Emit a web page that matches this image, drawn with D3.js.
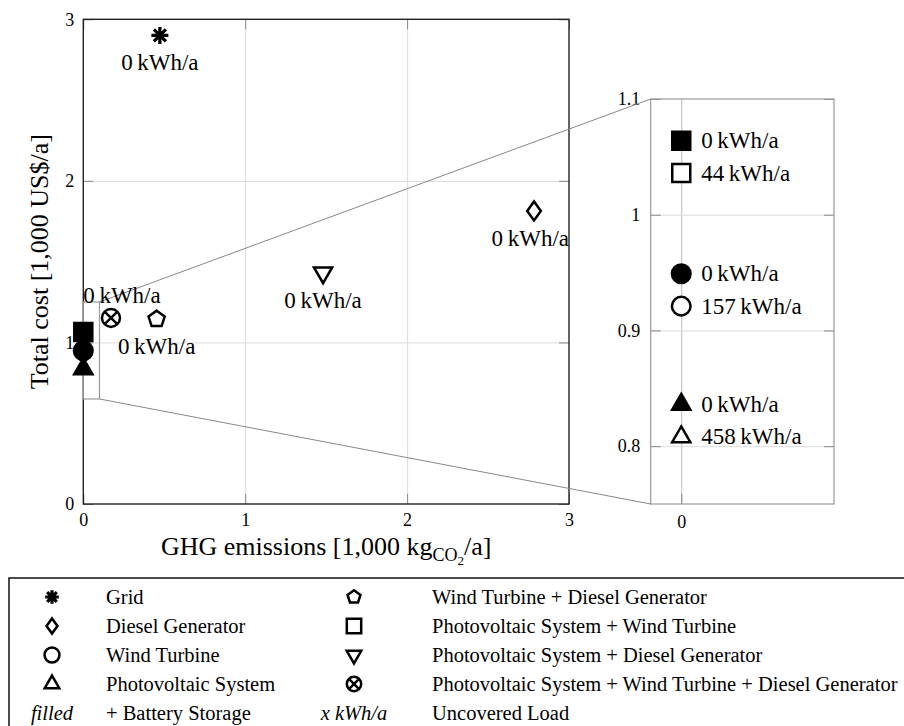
<!DOCTYPE html>
<html>
<head>
<meta charset="utf-8">
<script src="https://cdn.jsdelivr.net/npm/d3@7"></script>
<style>
  body { margin: 0; background: #fff; }
  svg { font-family: "Liberation Serif", "DejaVu Serif", serif; }
</style>
</head>
<body>
<svg width="904" height="726"></svg>
<script>
// legend entries (system configurations)
var systems = ["Grid", "Diesel Generator", "Wind Turbine", "Photovoltaic System",
               "Wind Turbine + Diesel Generator", "Photovoltaic System + Wind Turbine",
               "Photovoltaic System + Diesel Generator",
               "Photovoltaic System + Wind Turbine + Diesel Generator"];

// one entry per optimised result
var resultSystem  = [0, 1, 6, 4, 7, 5, 5, 2, 2, 3, 3];
var withBattery   = [false, false, false, false, false, true, false, true, false, true, false];
var emissions     = [0.473, 2.784, 1.481, 0.453, 0.171, 0, 0, 0, 0, 0, 0];      // 1,000 kgCO2/a
var cost          = [2.90, 1.814, 1.432, 1.144, 1.152, 1.064, 1.036, 0.949, 0.921, 0.836, 0.808]; // 1,000 US$/a
var uncoveredLoad = [0, 0, 0, 0, 0, 0, 44, 0, 157, 0, 458];                   // kWh/a

var mainTicks = [0, 1, 2, 3];
var zoomYTicks = [0.8, 0.9, 1, 1.1];
var zoomXTicks = [0];

document.addEventListener("DOMContentLoaded", () => {
    var svg = d3.select("svg");

    var shapeOf = ["asterisk", "diamond", "circle", "triangle", "pentagon", "square", "triangledown", "otimes"];
    var radius = {asterisk: 8.5, diamond: 9.5, circle: 9.3, triangle: 10.5, pentagon: 8.5,
                  square: 9, triangledown: 10.5, otimes: 9};

    function markerPath(shape, r) {
        var p;
        switch (shape) {
        case "square":
            return "M" + (-r) + "," + (-r) + "H" + r + "V" + r + "H" + (-r) + "Z";
        case "circle":
        case "otimes":
            p = d3.path(); p.arc(0, 0, r, 0, 2 * Math.PI); p.closePath();
            if (shape == "otimes") {
                var k = r * 0.707;
                p.moveTo(-k, -k); p.lineTo(k, k); p.moveTo(k, -k); p.lineTo(-k, k);
            }
            return p.toString();
        case "triangle":
            return "M0," + (-r) + "L" + (0.866 * r) + "," + (0.5 * r) + "L" + (-0.866 * r) + "," + (0.5 * r) + "Z";
        case "triangledown":
            return "M0," + r + "L" + (0.866 * r) + "," + (-0.5 * r) + "L" + (-0.866 * r) + "," + (-0.5 * r) + "Z";
        case "diamond":
            return "M0," + (-r) + "L" + (0.72 * r) + ",0L0," + r + "L" + (-0.72 * r) + ",0Z";
        case "pentagon":
            p = d3.path();
            for (var i = 0; i < 5; i++) {
                var a = -Math.PI / 2 + i * 2 * Math.PI / 5;
                if (i == 0) p.moveTo(r * Math.cos(a), r * Math.sin(a));
                else p.lineTo(r * Math.cos(a), r * Math.sin(a));
            }
            p.closePath();
            return p.toString();
        case "asterisk":
            p = d3.path();
            for (var j = 0; j < 4; j++) {
                var b = j * Math.PI / 4;
                p.moveTo(-r * Math.cos(b), -r * Math.sin(b));
                p.lineTo(r * Math.cos(b), r * Math.sin(b));
            }
            return p.toString();
        }
    }

    function drawMarker(g, shape, filled, cx, cy, scale) {
        var r = radius[shape] * (scale || 1);
        g.append("path")
            .attr("transform", "translate(" + cx + "," + cy + ")")
            .attr("d", markerPath(shape, r))
            .attr("fill", shape == "asterisk" ? "none" : (filled ? "#000" : "#fff"))
            .attr("stroke", "#000")
            .attr("stroke-width", shape == "asterisk" ? 3.2 : 2.5)
            .attr("stroke-linejoin", "miter");
    }

    function loadLabel(v) { return v + "\u2009kWh/a"; }

    // ---------- main axis ----------
    var left = 83.3, right = 569, top = 19.3, bottom = 504;
    var x = d3.scaleLinear().domain([0, 3]).range([left, right]);
    var y = d3.scaleLinear().domain([0, 3]).range([bottom, top]);

    var main = svg.append("g");

    // grid
    main.append("g").attr("transform", "translate(0," + bottom + ")")
        .call(d3.axisBottom(x).tickValues([1, 2]).tickSize(-(bottom - top)).tickFormat(""))
        .call(g => g.select(".domain").remove())
        .selectAll("line").attr("stroke", "#dcdcdc");
    main.append("g").attr("transform", "translate(" + left + ",0)")
        .call(d3.axisLeft(y).tickValues([1, 2]).tickSize(-(right - left)).tickFormat(""))
        .call(g => g.select(".domain").remove())
        .selectAll("line").attr("stroke", "#dcdcdc");

    // ticks inside the frame, all four sides
    function styleTicks(g) {
        g.attr("font-family", null).attr("font-size", 18);
        g.select(".domain").remove();
        g.selectAll("line").attr("stroke", "#888");
        g.selectAll("text").attr("fill", "#000");
    }
    main.append("g").attr("transform", "translate(0," + bottom + ")")
        .call(d3.axisBottom(x).tickValues(mainTicks).tickSize(-10).tickPadding(9).tickFormat(d3.format("d")))
        .call(styleTicks);
    main.append("g").attr("transform", "translate(0," + top + ")")
        .call(d3.axisTop(x).tickValues(mainTicks).tickSize(-10).tickFormat(""))
        .call(styleTicks);
    main.append("g").attr("transform", "translate(" + left + ",0)")
        .call(d3.axisLeft(y).tickValues(mainTicks).tickSize(-10).tickPadding(9).tickFormat(d3.format("d")))
        .call(styleTicks);
    main.append("g").attr("transform", "translate(" + right + ",0)")
        .call(d3.axisRight(y).tickValues(mainTicks).tickSize(-10).tickFormat(""))
        .call(styleTicks);

    main.append("rect")
        .attr("x", left).attr("y", top)
        .attr("width", right - left).attr("height", bottom - top)
        .attr("fill", "none").attr("stroke", "#222").attr("stroke-width", 1.4);

    // ---------- zoom axis ----------
    var zLeft = 650.7, zRight = 834, zTop = 99, zBottom = 504;
    var zx = d3.scaleLinear().domain([-0.01, 0.05]).range([zLeft, zRight]);
    var zy = d3.scaleLinear().domain([0.75, 1.1]).range([zBottom, zTop]);

    var zoom = svg.append("g");
    zoom.append("g").attr("transform", "translate(0," + zBottom + ")")
        .call(d3.axisBottom(zx).tickValues(zoomXTicks).tickSize(-(zBottom - zTop)).tickFormat(""))
        .call(g => g.select(".domain").remove())
        .selectAll("line").attr("stroke", "#bbb");
    zoom.append("g").attr("transform", "translate(" + zLeft + ",0)")
        .call(d3.axisLeft(zy).tickValues([0.8, 0.9, 1]).tickSize(-(zRight - zLeft)).tickFormat(""))
        .call(g => g.select(".domain").remove())
        .selectAll("line").attr("stroke", "#dcdcdc");

    zoom.append("g").attr("transform", "translate(0," + zBottom + ")")
        .call(d3.axisBottom(zx).tickValues(zoomXTicks).tickSize(-10).tickPadding(11).tickFormat(d3.format("d")))
        .call(styleTicks);
    zoom.append("g").attr("transform", "translate(" + zLeft + ",0)")
        .call(d3.axisLeft(zy).tickValues(zoomYTicks).tickSize(-10).tickPadding(10.5).tickFormat(d => String(+d.toFixed(2))))
        .call(styleTicks);
    zoom.append("g").attr("transform", "translate(" + zRight + ",0)")
        .call(d3.axisRight(zy).tickValues(zoomYTicks).tickSize(-10).tickFormat(""))
        .call(styleTicks);

    zoom.append("rect")
        .attr("x", zLeft).attr("y", zTop)
        .attr("width", zRight - zLeft).attr("height", zBottom - zTop)
        .attr("fill", "none").attr("stroke", "#999").attr("stroke-width", 1.2);

    // magnified region and connector lines
    var spyX = [0, 0.1], spyY = [0.65, 1.25];
    svg.append("rect")
        .attr("x", x(spyX[0])).attr("y", y(spyY[1]))
        .attr("width", x(spyX[1]) - x(spyX[0])).attr("height", y(spyY[0]) - y(spyY[1]))
        .attr("fill", "none").attr("stroke", "#999").attr("stroke-width", 1.2);
    svg.append("line")
        .attr("x1", x(spyX[1])).attr("y1", y(spyY[1])).attr("x2", zLeft).attr("y2", zTop)
        .attr("stroke", "#888").attr("stroke-width", 1);
    svg.append("line")
        .attr("x1", x(spyX[1])).attr("y1", y(spyY[0])).attr("x2", zLeft).attr("y2", zBottom)
        .attr("stroke", "#888").attr("stroke-width", 1);

    // ---------- points ----------
    var labelAbove = [7]; // PV + WT + DG label sits above its marker
    var pts = svg.append("g");
    var labels = svg.append("g").attr("font-size", 23).attr("fill", "#000");

    emissions.forEach(function(e, i) {
        var shape = shapeOf[resultSystem[i]];
        if (e == 0) {
            // zero-emission results: only the battery variant is visible in the
            // main axis, all of them are shown in the magnified axis
            if (withBattery[i]) drawMarker(pts, shape, true, x(e), y(cost[i]));
            drawMarker(pts, shape, withBattery[i], zx(e), zy(cost[i]));
            labels.append("text")
                .attr("x", zx(e) + 20)
                .attr("y", zy(cost[i]) + 7.5)
                .text(loadLabel(uncoveredLoad[i]));
        } else {
            drawMarker(pts, shape, withBattery[i], x(e), y(cost[i]));
            var above = labelAbove.indexOf(resultSystem[i]) >= 0;
            var t = labels.append("text")
                .attr("text-anchor", "middle")
                .attr("y", y(cost[i]) + (above ? -15 : 35))
                .text(loadLabel(uncoveredLoad[i]));
            var w = t.node().getComputedTextLength();
            var cx = Math.max(left + w / 2, Math.min(right - w / 2, x(e)));
            t.attr("x", cx);
        }
    });

    // ---------- axis titles ----------
    var xt = svg.append("text")
        .attr("x", (left + right) / 2).attr("y", 555)
        .attr("text-anchor", "middle").attr("font-size", 26);
    xt.append("tspan").text("GHG emissions [1,000 kg");
    xt.append("tspan").attr("font-size", 18).attr("dy", 6).text("CO");
    xt.append("tspan").attr("font-size", 13).attr("dy", 4).text("2");
    xt.append("tspan").attr("dy", -10).text("/a]");

    svg.append("text")
        .attr("transform", "translate(48," + (top + bottom) / 2 + ") rotate(-90)")
        .attr("text-anchor", "middle").attr("font-size", 26)
        .text("Total cost [1,000 US$/a]");

    // ---------- legend ----------
    var legend = svg.append("g").attr("font-size", 20.5);
    legend.append("rect")
        .attr("x", 9).attr("y", 578).attr("width", 910).attr("height", 160)
        .attr("fill", "none").attr("stroke", "#000").attr("stroke-width", 1.4);

    var rowY = d3.scalePoint().domain(d3.range(5)).range([597, 713]);
    var colMarker = [52, 354], colText = [106, 432];

    systems.forEach(function(name, i) {
        var c = i < 4 ? 0 : 1, r = i % 4;
        drawMarker(legend, shapeOf[i], false, colMarker[c], rowY(r), 0.8);
        legend.append("text").attr("x", colText[c]).attr("y", rowY(r) + 7).text(name);
    });
    legend.append("text").attr("x", colMarker[0]).attr("y", rowY(4) + 7)
        .attr("text-anchor", "middle").attr("font-style", "italic").text("filled");
    legend.append("text").attr("x", colText[0]).attr("y", rowY(4) + 7).text("+ Battery Storage");
    legend.append("text").attr("x", colMarker[1]).attr("y", rowY(4) + 7)
        .attr("text-anchor", "middle").attr("font-style", "italic").text("x kWh/a");
    legend.append("text").attr("x", colText[1]).attr("y", rowY(4) + 7).text("Uncovered Load");
});
</script>
</body>
</html>
